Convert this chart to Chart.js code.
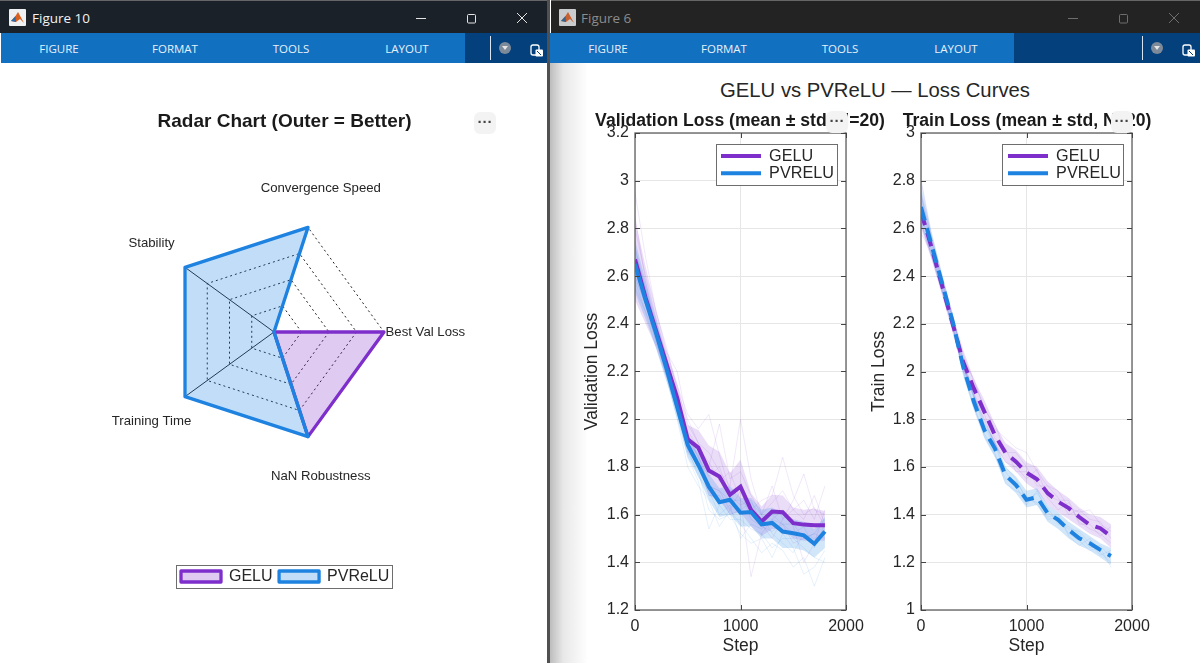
<!DOCTYPE html>
<html><head><meta charset="utf-8">
<script src="https://cdn.jsdelivr.net/npm/chart.js@4"></script>
<style>
html,body{margin:0;padding:0;width:1200px;height:663px;overflow:hidden;background:#fff;font-family:"Liberation Sans",Arial,sans-serif}
.abs{position:absolute}
canvas{position:absolute}
.bar{position:absolute;top:0;height:33px}
.rib{position:absolute;top:33px;height:30px;background:#1270c1}
.dark{position:absolute;top:33px;height:30px;background:#04417c}
.tab{position:absolute;top:33px;height:30px;color:#e8f1fa;font:11.5px "Open Sans",sans-serif;line-height:31px;transform:translateX(-50%)}
.ttl{position:absolute;top:9px;font:13.5px "Open Sans",sans-serif}
.more{position:absolute;width:22px;height:22px;border-radius:6px;background:#f3f3f3;color:#444;font:bold 15px "Liberation Sans",sans-serif;text-align:center;line-height:20px;letter-spacing:0}
.div{position:absolute;top:36px;width:1px;height:24px;background:#d8e4f0}
.drop{position:absolute;top:42px;width:12px;height:12px;border-radius:6px;background:#7d8a99}
.drop:after{content:"";position:absolute;left:3px;top:4px;border-left:3px solid transparent;border-right:3px solid transparent;border-top:4px solid #e6e6e6}
</style></head><body>
<div class="bar" style="left:0;width:548px;background:#1b2128;border-top:1px solid #666;box-sizing:border-box"></div>
<div class="bar" style="left:551px;width:649px;background:#232323;border-top:1px solid #666;box-sizing:border-box"></div>
<div class="abs" style="left:547px;top:0;width:3px;height:663px;background:#505050"></div>
<div class="abs" style="left:550px;top:63px;width:38px;height:600px;background:linear-gradient(to right,#bdbdbd,#e8e8e8 35%,#fff)"></div>
<div class="rib" style="left:1px;width:546px"></div><div class="rib" style="left:550px;width:650px"></div>
<div class="dark" style="left:465px;width:82px"></div><div class="dark" style="left:1014px;width:186px"></div>
<div class="tab" style="left:59px">FIGURE</div><div class="tab" style="left:175px">FORMAT</div><div class="tab" style="left:291px">TOOLS</div><div class="tab" style="left:407px">LAYOUT</div>
<div class="tab" style="left:608px">FIGURE</div><div class="tab" style="left:724px">FORMAT</div><div class="tab" style="left:840px">TOOLS</div><div class="tab" style="left:956px">LAYOUT</div>
<div class="ttl" style="left:32px;color:#f2f2f2">Figure 10</div><div class="ttl" style="left:581px;color:#8c8c8c">Figure 6</div>
<div class="div" style="left:490px"></div><div class="div" style="left:1142px"></div>
<div class="drop" style="left:499px"></div><div class="drop" style="left:1151px"></div>
<svg class="abs" style="left:0;top:0" width="1200" height="63">
<g id="ic"><rect x="9" y="9" width="17" height="17" rx="1" fill="#eef0f2"/><path d="M11 21 L15.5 16 L18 12 L24 23 L20 19 L16 22 Z" fill="#d9601f"/><path d="M11 21 L15.5 16 L16 22Z" fill="#2b6ca8"/></g>
<g transform="translate(550,0)"><rect x="9" y="9" width="17" height="17" rx="1" fill="#c9cbcd"/><path d="M11 21 L15.5 16 L18 12 L24 23 L20 19 L16 22 Z" fill="#c9602f"/><path d="M11 21 L15.5 16 L16 22Z" fill="#33648f"/></g>
<g fill="none" stroke="#e4e4e4" stroke-width="1"><path d="M416 18.5H426"/><rect x="467.5" y="14.5" width="8" height="8.5" rx="1"/><path d="M517 13L527 23M527 13L517 23"/></g>
<g fill="none" stroke="#6e6e6e" stroke-width="1"><path d="M1068 18.5H1078"/><rect x="1119.5" y="14.5" width="8" height="8.5" rx="1"/><path d="M1169 13L1179 23M1179 13L1169 23"/></g>
<g id="dk"><rect x="531" y="45" width="8" height="10" rx="2" fill="none" stroke="#fff" stroke-width="1.3"/><rect x="535.5" y="49.5" width="7.5" height="7" rx="1" fill="#fff"/><path d="M537 51L541 55" stroke="#04417c"/></g>
<g transform="translate(652,0)"><rect x="531" y="45" width="8" height="10" rx="2" fill="none" stroke="#fff" stroke-width="1.3"/><rect x="535.5" y="49.5" width="7.5" height="7" rx="1" fill="#fff"/><path d="M537 51L541 55" stroke="#04417c"/></g>
</svg>
<div class="abs" style="left:675px;width:400px;top:78px;text-align:center;font-size:20.3px;color:#262626;line-height:24px">GELU vs PVReLU — Loss Curves</div>
<canvas id="radar" width="548" height="600" style="left:0;top:63px"></canvas>
<canvas id="val" width="340" height="560" style="left:570px;top:100px"></canvas>
<canvas id="train" width="340" height="560" style="left:857px;top:100px"></canvas>
<div class="more" style="left:474px;top:112px">···</div>
<div class="more" style="left:826px;top:111px">···</div>
<div class="more" style="left:1111px;top:111px">···</div>
<script>
const radarAxes = ['Best Val Loss','NaN Robustness','Training Time','Stability','Convergence Speed'];
const radarGelu = [1,1,0,0,0];
const radarPvrelu = [0,1,1,1,1];
const steps = [0,100,200,300,400,500,600,700,800,900,1000,1100,1200,1300,1400,1500,1600,1700,1800];

const valGeluMean = [2.67,2.51,2.37,2.23,2.09,1.916,1.881,1.785,1.76,1.683,1.717,1.62,1.571,1.613,1.61,1.564,1.558,1.555,1.555];
const valPvreluMean = [2.65,2.50,2.36,2.21,2.05,1.892,1.808,1.717,1.652,1.662,1.608,1.611,1.559,1.565,1.529,1.522,1.513,1.478,1.529];
const valGeluUpper = [2.84,2.64,2.46,2.29,2.15,1.976,1.955,1.89,1.864,1.773,1.83,1.69,1.634,1.683,1.68,1.63,1.62,1.625,1.615];
const valGeluLower = [2.50,2.40,2.30,2.17,2.03,1.86,1.81,1.68,1.66,1.60,1.61,1.55,1.51,1.54,1.54,1.50,1.49,1.49,1.49];
const valPvreluUpper = [2.75,2.58,2.42,2.26,2.10,1.94,1.86,1.77,1.71,1.72,1.67,1.67,1.62,1.63,1.60,1.58,1.57,1.54,1.59];
const valPvreluLower = [2.53,2.42,2.30,2.16,2.00,1.84,1.76,1.66,1.59,1.60,1.55,1.55,1.50,1.50,1.46,1.46,1.45,1.42,1.46];
const valGeluRuns = [
 [2.95,2.68,2.45,2.30,2.12,2.00,1.90,1.86,1.78,1.72,2.00,1.75,1.60,1.65,1.70,1.62,1.66,1.58,1.72],
 [2.80,2.60,2.42,2.26,2.14,2.02,1.96,2.02,1.85,1.70,1.72,1.62,1.66,1.68,1.84,1.68,1.60,1.63,1.55],
 [2.55,2.45,2.35,2.28,2.20,1.98,1.90,1.80,1.98,1.75,1.78,1.68,1.60,1.72,1.58,1.66,1.77,1.62,1.60],
 [2.60,2.48,2.32,2.18,2.06,1.90,1.85,1.72,1.70,1.62,1.70,1.58,1.55,1.53,1.56,1.48,1.50,1.52,1.50],
 [2.72,2.55,2.40,2.25,2.10,1.95,1.88,1.82,1.74,1.78,1.66,1.34,1.52,1.58,1.62,1.55,1.40,1.48,1.62],
 [2.85,2.58,2.36,2.22,2.08,1.92,1.84,1.76,1.80,1.68,1.64,1.66,1.56,1.50,1.58,1.62,1.58,1.68,1.56]];
const valPvreluRuns = [
 [2.65,2.50,2.34,2.18,2.00,1.80,1.72,1.66,1.55,1.62,1.56,1.50,1.44,1.48,1.45,1.38,1.42,1.30,1.42],
 [2.60,2.48,2.36,2.22,2.06,1.86,1.78,1.62,1.58,1.60,1.52,1.48,1.50,1.42,1.52,1.46,1.35,1.38,1.45],
 [2.70,2.55,2.38,2.24,2.08,1.94,1.84,1.72,1.70,1.66,1.66,1.62,1.58,1.60,1.56,1.56,1.50,1.52,1.58],
 [2.58,2.45,2.30,2.16,2.04,1.84,1.74,1.54,1.64,1.58,1.58,1.54,1.52,1.46,1.50,1.50,1.46,1.42,1.40],
 [2.72,2.52,2.40,2.25,2.05,1.90,1.82,1.68,1.68,1.60,1.62,1.65,1.60,1.52,1.48,1.44,1.52,1.50,1.52],
 [2.62,2.50,2.32,2.20,2.02,1.88,1.76,1.70,1.60,1.64,1.50,1.56,1.54,1.58,1.56,1.52,1.55,1.46,1.56]];

const trainGeluMean = [2.67,2.52,2.36,2.20,2.04,1.93,1.832,1.734,1.66,1.622,1.576,1.548,1.49,1.454,1.427,1.39,1.357,1.343,1.308];
const trainPvreluMean = [2.69,2.53,2.37,2.21,2.02,1.875,1.755,1.678,1.566,1.524,1.462,1.473,1.406,1.378,1.336,1.301,1.28,1.252,1.226];
const trainGeluUpper = [2.76,2.57,2.40,2.24,2.09,1.97,1.88,1.78,1.70,1.67,1.62,1.60,1.54,1.50,1.47,1.43,1.40,1.39,1.36];
const trainGeluLower = [2.60,2.47,2.32,2.16,2.00,1.89,1.79,1.69,1.62,1.58,1.53,1.50,1.44,1.41,1.38,1.35,1.32,1.30,1.26];
const trainPvreluUpper = [2.78,2.58,2.41,2.24,2.06,1.91,1.79,1.71,1.60,1.56,1.50,1.51,1.44,1.41,1.37,1.34,1.31,1.28,1.26];
const trainPvreluLower = [2.62,2.48,2.33,2.18,1.98,1.84,1.72,1.64,1.53,1.49,1.43,1.44,1.37,1.34,1.30,1.27,1.25,1.22,1.19];
const trainGeluRuns = [
 [2.80,2.56,2.38,2.22,2.07,1.96,1.85,1.76,1.72,1.68,1.66,1.58,1.52,1.50,1.43,1.41,1.42,1.36,1.33],
 [2.62,2.48,2.33,2.18,2.02,1.90,1.80,1.70,1.62,1.60,1.55,1.59,1.47,1.42,1.45,1.37,1.34,1.32,1.28],
 [2.70,2.54,2.36,2.23,2.05,1.97,1.84,1.78,1.66,1.66,1.60,1.52,1.52,1.47,1.40,1.42,1.38,1.37,1.30],
 [2.58,2.50,2.34,2.19,2.01,1.91,1.82,1.72,1.68,1.58,1.58,1.54,1.48,1.46,1.46,1.36,1.36,1.31,1.35]];
const trainPvreluRuns = [
 [2.80,2.58,2.40,2.24,2.04,1.90,1.78,1.70,1.60,1.55,1.46,1.49,1.43,1.36,1.35,1.32,1.26,1.27,1.22],
 [2.62,2.49,2.34,2.19,2.00,1.85,1.74,1.66,1.53,1.50,1.48,1.44,1.39,1.40,1.31,1.27,1.30,1.24,1.20],
 [2.74,2.55,2.38,2.22,2.03,1.89,1.77,1.69,1.58,1.52,1.44,1.50,1.41,1.37,1.34,1.33,1.28,1.23,1.25],
 [2.66,2.51,2.35,2.20,2.00,1.86,1.73,1.65,1.55,1.54,1.47,1.45,1.38,1.39,1.32,1.29,1.25,1.26,1.18]];

const valYTicks = [1.2,1.4,1.6,1.8,2,2.2,2.4,2.6,2.8,3,3.2];
const trainYTicks = [1,1.2,1.4,1.6,1.8,2,2.2,2.4,2.6,2.8,3];
const xTicks = [0,1000,2000];

const PURPLE='#7e2ecb', BLUE='#1e82e0', FONT='"Liberation Sans",Arial,sans-serif', INK='#262626';
Chart.defaults.font.family=FONT;
Chart.defaults.color=INK;
Chart.defaults.animation=false;

// Places the legend and its frame, and sets the horizontal span of the title.
function placeLegend(frame,pos,titleSpan){
  return {id:'placeLegend',
    afterLayout(chart){
      const l=chart.legend;
      l.left=pos.left;l.top=pos.top;l.right=pos.left+frame.w+40;l.bottom=pos.top+frame.h;
      chart.titleBlock.left=titleSpan[0];chart.titleBlock.right=titleSpan[1];
    },
    afterDatasetsDraw(chart){
      const c=chart.ctx;c.save();c.fillStyle='#fff';c.fillRect(frame.x,frame.y,frame.w,frame.h);
      c.strokeStyle='#6e6e6e';c.lineWidth=1;c.strokeRect(frame.x+.5,frame.y+.5,frame.w,frame.h);c.restore();
      chart.legend.draw();
    }};
}
// MATLAB-style closed box with inward ticks.
const axesBox={id:'axesBox',afterDatasetsDraw(chart){
  const {left:l,right:r,top:t,bottom:b}=chart.chartArea,c=chart.ctx;c.save();
  c.strokeStyle='#6b6b6b';c.lineWidth=1.4;c.strokeRect(l,t,r-l,b-t);
  c.strokeStyle='#444';c.lineWidth=1;c.beginPath();
  chart.scales.y.ticks.forEach(k=>{const y=Math.round(chart.scales.y.getPixelForValue(k.value))+.5;c.moveTo(l,y);c.lineTo(l+5,y);c.moveTo(r,y);c.lineTo(r-5,y);});
  chart.scales.x.ticks.forEach(k=>{const x=Math.round(chart.scales.x.getPixelForValue(k.value))+.5;c.moveTo(x,b);c.lineTo(x,b-5);c.moveTo(x,t);c.lineTo(x,t+5);});
  c.stroke();c.restore();
}};

function lineChart(id,title,yLabel,yMin,yMax,yTicks,yWidth,padR,dash,d,legendPos,frame){
  const ds=[];
  const thin=(arr,col)=>arr.forEach(v=>ds.push({label:'run',data:v,borderColor:col,borderWidth:1,pointRadius:0,order:5}));
  thin(d.gRuns,'rgba(126,46,203,0.11)');thin(d.pRuns,'rgba(30,130,224,0.11)');
  ds.push({label:'band',data:d.gU,borderWidth:0,pointRadius:0,fill:'+1',backgroundColor:'rgba(126,46,203,0.16)',order:4});
  ds.push({label:'band',data:d.gL,borderWidth:0,pointRadius:0,order:4});
  ds.push({label:'band',data:d.pU,borderWidth:0,pointRadius:0,fill:'+1',backgroundColor:'rgba(30,130,224,0.2)',order:3});
  ds.push({label:'band',data:d.pL,borderWidth:0,pointRadius:0,order:3});
  ds.push({label:'GELU',data:d.g,borderColor:PURPLE,backgroundColor:PURPLE,borderWidth:4,pointRadius:0,borderDash:dash,order:1,pointStyle:'line'});
  ds.push({label:'PVRELU',data:d.p,borderColor:BLUE,backgroundColor:BLUE,borderWidth:4,pointRadius:0,borderDash:dash,order:0,pointStyle:'line'});
  new Chart(document.getElementById(id),{type:'line',
    data:{labels:steps,datasets:ds.map(s=>Object.assign({tension:0},s,{data:s.data.map((v,k)=>({x:steps[k],y:v}))}))},
    options:{responsive:false,devicePixelRatio:1,layout:{padding:{right:padR}},
      plugins:{tooltip:{enabled:false},
        title:{display:true,text:title,color:'#1a1a1a',font:{size:17.6,weight:'bold',lineHeight:'21px'},padding:{top:11,bottom:1}},
        legend:{position:'chartArea',align:'start',labels:{padding:1,usePointStyle:true,pointStyleWidth:40,boxHeight:4,color:INK,font:{size:16.2,lineHeight:1.11},
          filter:x=>x.text==='GELU'||x.text==='PVRELU',sort:(a,b)=>a.text.localeCompare(b.text)}}},
      scales:{
        x:{type:'linear',min:0,max:2000,afterFit:s=>{s.height=50},afterBuildTicks:s=>{s.ticks=xTicks.map(v=>({value:v}))},
          grid:{color:'#e6e6e6',drawTicks:false},border:{display:false},
          ticks:{padding:7,maxRotation:0,font:{size:16},color:INK,callback:v=>String(v)},
          title:{display:true,text:'Step',font:{size:17.5},color:INK,padding:{top:0,bottom:3.8}}},
        y:{min:yMin,max:yMax,afterFit:s=>{s.width=yWidth},afterBuildTicks:s=>{s.ticks=yTicks.map(v=>({value:v}))},
          grid:{color:'#e6e6e6',drawTicks:false},border:{display:false},
          ticks:{padding:6,font:{size:16},color:INK,callback:v=>String(+v.toFixed(1))},
          title:{display:true,text:yLabel,font:{size:17.5},color:INK,padding:{top:12,bottom:0}}}
      }},
    plugins:[axesBox,placeLegend(frame,legendPos,[0,340])]});
}

lineChart('val','Validation Loss (mean ± std, N=20)','Validation Loss',1.2,3.2,valYTicks,65,64,[],
  {g:valGeluMean,p:valPvreluMean,gU:valGeluUpper,gL:valGeluLower,pU:valPvreluUpper,pL:valPvreluLower,gRuns:valGeluRuns,pRuns:valPvreluRuns},
  {left:150,top:47},{x:146,y:44,w:121,h:41});
lineChart('train','Train Loss (mean ± std, N=20)','Train Loss',1,3,trainYTicks,64,65,[14,8],
  {g:trainGeluMean,p:trainPvreluMean,gU:trainGeluUpper,gL:trainGeluLower,pU:trainPvreluUpper,pL:trainPvreluLower,gRuns:trainGeluRuns,pRuns:trainPvreluRuns},
  {left:150,top:47},{x:145,y:44,w:121,h:41});

const spokeLabels={id:'spokeLabels',afterDatasetsDraw(chart){
  const s=chart.scales.r,c=chart.ctx;c.save();c.font='13.2px '+FONT;c.fillStyle=INK;c.textAlign='center';c.textBaseline='middle';
  radarAxes.forEach((t,i)=>{const p=s.getPointPosition(i,s.drawingArea*1.376);c.fillText(t,p.x,p.y);});c.restore();
}};
new Chart(document.getElementById('radar'),{type:'radar',
  data:{labels:radarAxes,datasets:[
    {label:'GELU',data:radarGelu,borderColor:PURPLE,backgroundColor:'rgba(126,46,203,0.25)',borderWidth:3.3,borderJoinStyle:'round',pointRadius:0,order:1},
    {label:'PVReLU',data:radarPvrelu,borderColor:BLUE,backgroundColor:'rgba(30,130,224,0.27)',borderWidth:3.3,borderJoinStyle:'round',pointRadius:0,order:0}]},
  options:{responsive:false,devicePixelRatio:1,layout:{padding:{bottom:187}},
    plugins:{tooltip:{enabled:false},
      title:{display:true,text:'Radar Chart (Outer = Better)',color:'#1a1a1a',font:{size:19,weight:'bold'},padding:{top:47,bottom:89.2}},
      legend:{position:'bottom',align:'start',labels:{padding:6.5,boxWidth:40,boxHeight:11,color:INK,font:{size:16},sort:(a,b)=>a.text.localeCompare(b.text)}}},
    scales:{r:{min:0,max:1,startAngle:90,ticks:{display:false,stepSize:.25},
      pointLabels:{display:false},
      angleLines:{display:true,color:'#222',lineWidth:1},
      grid:{color:'#222',lineWidth:1},border:{dash:[2,3]}}}},
  plugins:[spokeLabels,placeLegend({x:176,y:502,w:216,h:23},{left:174.5,top:499},[10.5,558.5])]});
</script>
</body></html>
